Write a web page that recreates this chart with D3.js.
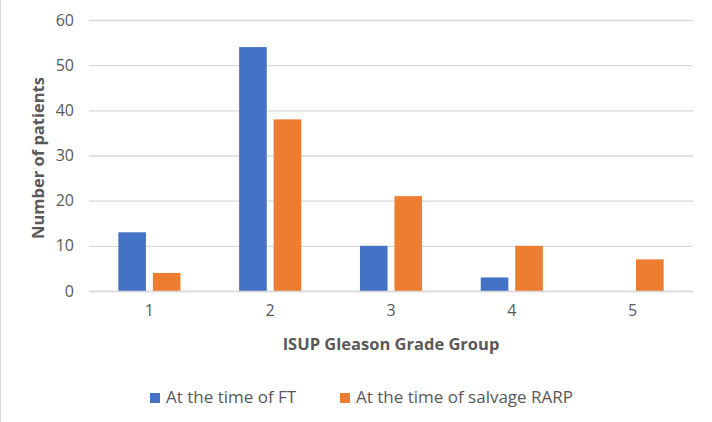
<!DOCTYPE html>
<html><head><meta charset="utf-8">
<script src="https://cdn.jsdelivr.net/npm/d3@7"></script>
<style>body{margin:0;background:#fff;} svg{display:block;}</style>
</head><body>
<script>
const categories = ["1","2","3","4","5"];
const seriesNames = ["At the time of FT","At the time of salvage RARP"];
const ftValues = [13,54,10,3,0];
const rarpValues = [4,38,21,10,7];
const yTicks = [0,10,20,30,40,50,60];
const colors = ["#4472C4","#ED7D31"];

const W=712,H=422;
const svg=d3.select("body").append("svg").attr("width",W).attr("height",H);
svg.append("rect").attr("x",0).attr("y",0).attr("width",W).attr("height",H).attr("fill","#fff");
svg.append("line").attr("x1",0.5).attr("x2",0.5).attr("y1",0).attr("y2",H).attr("stroke","#d9d9d9");

const pLeft=89,pRight=693,pTop=20,pBottom=291;
const x=d3.scaleBand().domain(categories).range([pLeft,pRight]);
const x1=d3.scaleBand().domain([0,1]).range([0,x.bandwidth()]).paddingInner(0.2).paddingOuter(0.85);
const y=d3.scaleLinear().domain([0,60]).range([pBottom,pTop]);
const font="'Open Sans', 'Liberation Sans', sans-serif";

const yAxis=d3.axisLeft(y).tickValues(yTicks).tickSize(-(pRight-pLeft)).tickPadding(15);
const gy=svg.append("g").attr("transform",`translate(${pLeft},0)`).call(yAxis);
gy.select(".domain").remove();
gy.selectAll(".tick line").attr("stroke","#d9d9d9").attr("stroke-width",1.3);
gy.selectAll(".tick text").attr("fill","#595959").attr("font-size",16).attr("font-family",font);

const data=categories.map((c,i)=>({c,vals:[ftValues[i],rarpValues[i]]}));
const g=svg.append("g");
data.forEach(d=>{
  d.vals.forEach((v,j)=>{
    if(v<=0) return;
    g.append("rect").attr("x",x(d.c)+x1(j)).attr("width",x1.bandwidth())
     .attr("y",y(v)).attr("height",y(0)-y(v)).attr("fill",colors[j]);
  });
});

const xAxis=d3.axisBottom(x).tickSize(0).tickPadding(14);
const gx=svg.append("g").attr("transform",`translate(0,${pBottom})`).call(xAxis);
gx.select(".domain").attr("stroke","#d9d9d9").attr("stroke-width",1.3);
gx.selectAll(".tick text").attr("fill","#595959").attr("font-size",16).attr("font-family",font);

svg.append("text").attr("x",391).attr("y",350).attr("text-anchor","middle")
 .attr("font-family",font).attr("font-size",16.5).attr("font-weight","bold").attr("fill","#595959")
 .text("ISUP Gleason Grade Group");
svg.append("text").attr("transform","translate(44,158) rotate(-90)").attr("text-anchor","middle")
 .attr("font-family",font).attr("font-size",16.5).attr("font-weight","bold").attr("fill","#595959")
 .text("Number of patients");

const legX=[150,340];
seriesNames.forEach((n,i)=>{
  svg.append("rect").attr("x",legX[i]).attr("y",393).attr("width",10).attr("height",10).attr("fill",colors[i]);
  svg.append("text").attr("x",legX[i]+16).attr("y",403).attr("font-family",font).attr("font-size",17)
   .attr("fill","#595959").text(n);
});
</script>
</body></html>
